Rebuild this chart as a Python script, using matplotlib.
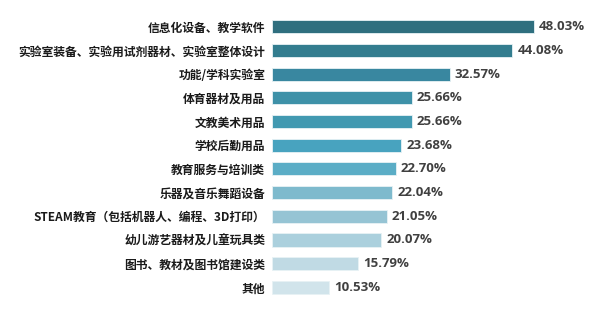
import matplotlib
matplotlib.use("Agg")
import matplotlib.pyplot as plt

categories = [
    "信息化设备、教学软件",
    "实验室装备、实验用试剂器材、实验室整体设计",
    "功能/学科实验室",
    "体育器材及用品",
    "文教美术用品",
    "学校后勤用品",
    "教育服务与培训类",
    "乐器及音乐舞蹈设备",
    "STEAM教育（包括机器人、编程、3D打印）",
    "幼儿游艺器材及儿童玩具类",
    "图书、教材及图书馆建设类",
    "其他",
]
values = [48.03, 44.08, 32.57, 25.66, 25.66, 23.68, 22.70, 22.04, 21.05, 20.07, 15.79, 10.53]
colors = ["#2F6F7F", "#337D8F", "#3987A0", "#3E91A8", "#4299B1", "#48A3BF",
          "#5BADC6", "#7EBACD", "#96C4D4", "#ABD0DD", "#C0DAE4", "#D1E4EB"]

plt.rcParams['font.family'] = ['Noto Sans CJK SC', 'DejaVu Sans']

fig = plt.figure(figsize=(6, 3.15), dpi=100)
ax = fig.add_axes([272/600, 0.05, 320/600, 0.903])

n = len(categories)
ypos = list(range(n))[::-1]
ax.barh(ypos, values, height=0.55, color=colors, edgecolor="#E8F2F5", linewidth=0.6)

for y, v in zip(ypos, values):
    ax.text(v + 0.9, y, f"{v:.2f}%", va="center", ha="left", fontsize=9.5,
            fontweight="bold", color="#404040", family=["Open Sans", "DejaVu Sans"])

ax.set_yticks(ypos)
ax.set_yticklabels(categories, fontsize=8.5, fontweight="bold", color="#1a1a1a")
ax.tick_params(axis="y", length=0, pad=5)
ax.set_xlim(0, 320/5.455)
ax.set_ylim(-0.5, n - 0.5)
ax.set_xticks([])
for s in ax.spines.values():
    s.set_visible(False)

fig.savefig("out.png", dpi=100)
